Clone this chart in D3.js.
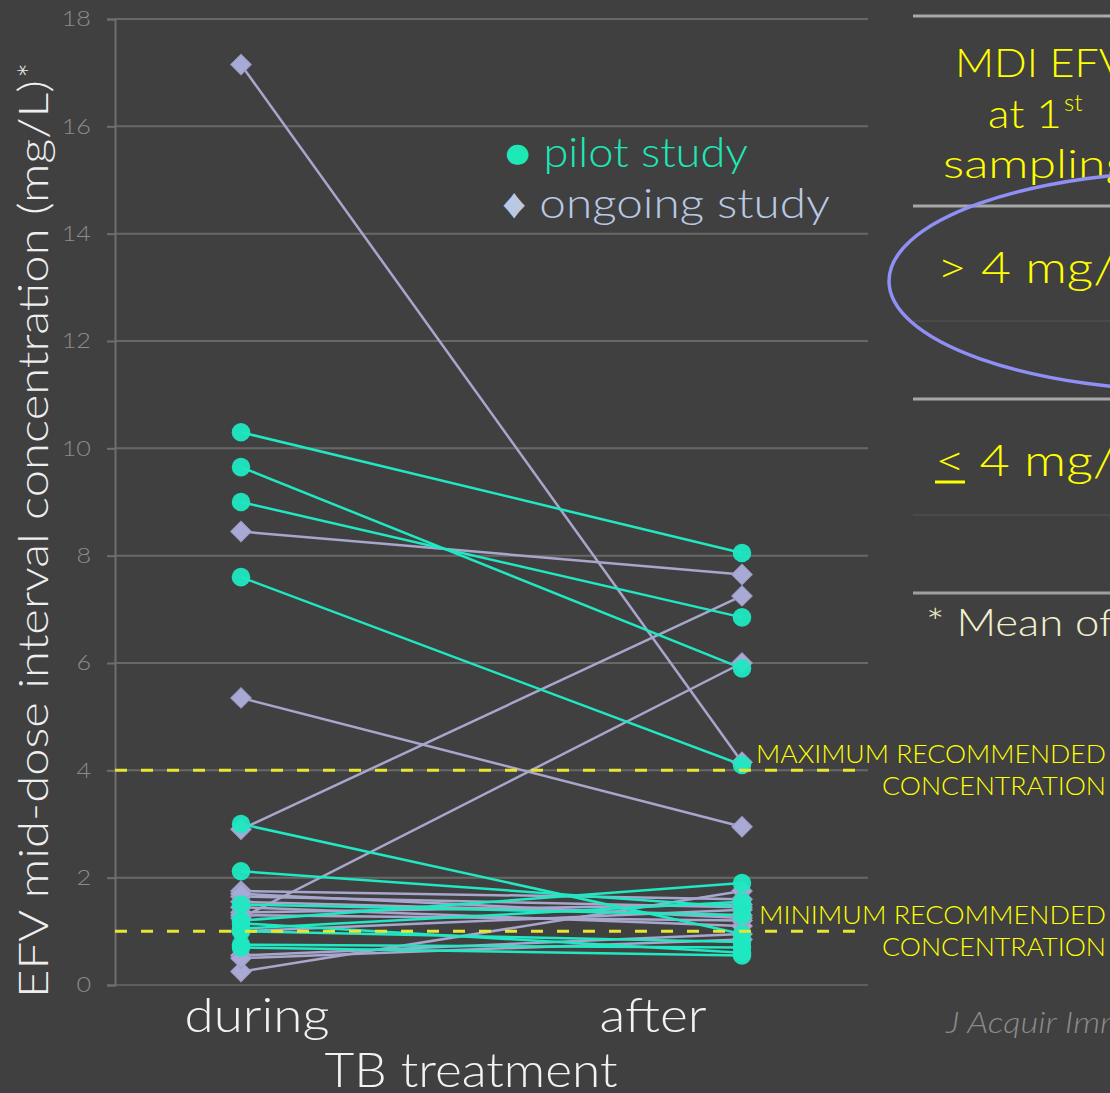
<!DOCTYPE html>
<html>
<head>
<meta charset="utf-8">
<script src="https://cdn.jsdelivr.net/npm/d3@7"></script>
<style>
  html, body { margin: 0; padding: 0; background: #404040; }
  svg { display: block; }
  text { font-family: Lato, "Noto Sans", sans-serif; }
</style>
</head>
<body>
<svg id="chart" width="1110" height="1093"></svg>
<script>
// Time points of sampling
const timepoints = ["during", "after"];

// Pilot study: paired EFV mid-dose concentrations (mg/L)
const pilotDuring = [10.3, 9.65, 9.0, 7.6, 3.0, 2.12, 1.2, 1.05, 1.0, 0.75, 0.7, 1.15, 1.5];
const pilotAfter  = [8.05, 5.9, 6.85, 4.1, 0.95, 1.45, 1.9, 1.55, 0.8, 0.7, 0.55, 0.6, 1.3];

// Ongoing study: paired EFV mid-dose concentrations (mg/L)
const ongoingDuring = [17.15, 8.45, 5.35, 2.9, 1.25, 0.25, 1.75, 1.65, 1.55, 1.45, 1.35, 1.3, 0.55, 1.0, 1.7, 0.5];
const ongoingAfter  = [4.15, 7.65, 2.95, 7.25, 6.0, 1.75, 1.6, 1.45, 1.3, 1.1, 1.5, 1.2, 0.95, 1.4, 1.25, 0.85];

// Axis ticks and recommended concentration limits
const yTicks = [0, 2, 4, 6, 8, 10, 12, 14, 16, 18];
const maxRecommended = 4;
const minRecommended = 1;

const svg = d3.select("#chart");

// Stretch a text run horizontally to a given width (or by a factor of its natural width)
function fitWidth(sel, width) {
  sel.attr("textLength", width).attr("lengthAdjust", "spacingAndGlyphs");
  return sel;
}
function widen(sel, factor) {
  sel.each(function () {
    const len = this.getComputedTextLength();
    d3.select(this).attr("textLength", len * factor).attr("lengthAdjust", "spacingAndGlyphs");
  });
  return sel;
}

const y = d3.scaleLinear().domain([0, 18]).range([985, 19]);
const x = d3.scalePoint().domain(timepoints).range([241, 742]);
const xLabel = d3.scalePoint().domain(timepoints).range([257, 653]);

const plotLeft = 115, plotRight = 868;

// Horizontal grid
svg.append("g")
  .selectAll("line")
  .data(yTicks)
  .join("line")
  .attr("x1", plotLeft).attr("x2", plotRight)
  .attr("y1", d => y(d)).attr("y2", d => y(d))
  .attr("stroke", d => d === 0 ? "#5e5e5e" : "#686868")
  .attr("stroke-width", 2);

// Y axis
const yAxis = d3.axisLeft(y).tickValues(yTicks).tickSize(8).tickPadding(16);
const gy = svg.append("g").attr("transform", `translate(${plotLeft},0)`).call(yAxis);
gy.select(".domain").attr("stroke", "#6e6e6e").attr("stroke-width", 2);
gy.selectAll(".tick line").attr("stroke", "#6e6e6e").attr("stroke-width", 2);
gy.selectAll(".tick text")
  .attr("fill", "#8c8c8c")
  .style("font-size", "21px")
  .style("font-family", "Lato, sans-serif")
  .style("font-weight", 300);
widen(gy.selectAll(".tick text"), 1.2);

// Y axis title
const yTitle = svg.append("text")
  .attr("transform", "translate(48,998) rotate(-90)")
  .attr("fill", "#eeeeee")
  .style("font-size", "41px")
  .style("font-weight", 300);
fitWidth(yTitle.append("tspan").text("EFV  mid-dose  interval  concentration  (mg/L)"), 918);
yTitle.append("tspan").attr("dx", 2).attr("dy", -4).style("font-size", "36px").text("*");

// Paired series
const pilot = pilotDuring.map((v, i) => [v, pilotAfter[i]]);
const ongoing = ongoingDuring.map((v, i) => [v, ongoingAfter[i]]);

const cyan = "#1fe8c2";
const lavender = "#a9a9d6";

const lineGen = d3.line()
  .x((d, i) => x(timepoints[i]))
  .y(d => y(d));

svg.append("g").selectAll("path")
  .data(ongoing)
  .join("path")
  .attr("d", lineGen)
  .attr("fill", "none")
  .attr("stroke", "#a8a6cc")
  .attr("stroke-width", 2.5);

svg.append("g").selectAll("path")
  .data(pilot)
  .join("path")
  .attr("d", lineGen)
  .attr("fill", "none")
  .attr("stroke", cyan)
  .attr("stroke-width", 2.5);

// Markers
const diamond = d3.symbol().type(d3.symbolSquare).size(210);
const circle = d3.symbol().type(d3.symbolCircle).size(270);

const ongoingPts = ongoing.flatMap(p => p.map((v, i) => ({ t: timepoints[i], v })));
const pilotPts = pilot.flatMap(p => p.map((v, i) => ({ t: timepoints[i], v })));

svg.append("g").selectAll("path")
  .data(ongoingPts)
  .join("path")
  .attr("d", diamond)
  .attr("transform", d => `translate(${x(d.t)},${y(d.v)}) rotate(45)`)
  .attr("fill", lavender)
  .attr("stroke", "#9c9cc4")
  .attr("stroke-width", 1);

svg.append("g").selectAll("path")
  .data(pilotPts)
  .join("path")
  .attr("d", circle)
  .attr("transform", d => `translate(${x(d.t)},${y(d.v)})`)
  .attr("fill", cyan)
  .attr("fill-opacity", 0.95);

// Recommended concentration limits
svg.append("g").selectAll("line")
  .data([maxRecommended, minRecommended])
  .join("line")
  .attr("x1", plotLeft).attr("x2", 860)
  .attr("y1", d => y(d)).attr("y2", d => y(d))
  .attr("stroke", "#e6e632")
  .attr("stroke-width", 3)
  .attr("stroke-dasharray", "12,14");

const limitLabels = [
  { v: maxRecommended, lines: [["MAXIMUM RECOMMENDED", 350], ["CONCENTRATION", 224]] },
  { v: minRecommended, lines: [["MINIMUM  RECOMMENDED", 347], ["CONCENTRATION", 224]] }
];
limitLabels.forEach(l => {
  l.lines.forEach(([s, w], i) => {
    const t = svg.append("text")
      .attr("text-anchor", "end")
      .attr("fill", "#ffff00")
      .style("font-size", "25px")
      .style("font-weight", 300)
      .attr("x", 1106)
      .attr("y", y(l.v) - 7 + i * 32)
      .text(s);
    fitWidth(t, w);
  });
});

// X labels
const xl = svg.append("g").selectAll("text")
  .data(timepoints)
  .join("text")
  .attr("x", d => xLabel(d))
  .attr("y", 1032)
  .attr("text-anchor", "middle")
  .attr("fill", "#f2f2f2")
  .style("font-size", "47px")
  .style("font-weight", 300)
  .text(d => d);
xl.each(function (d) { fitWidth(d3.select(this), d === "during" ? 145 : 107); });

fitWidth(svg.append("text")
  .attr("x", 471).attr("y", 1087)
  .attr("text-anchor", "middle")
  .attr("fill", "#f2f2f2")
  .style("font-size", "47px")
  .style("font-weight", 300)
  .text("TB treatment"), 293);

// Legend
fitWidth(svg.append("text")
  .attr("x", 504).attr("y", 167)
  .attr("fill", "#1de9b6")
  .style("font-size", "42px")
  .style("font-weight", 300)
  .text("● pilot study"), 244);
fitWidth(svg.append("text")
  .attr("x", 502).attr("y", 218)
  .attr("fill", "#b9c9e4")
  .style("font-size", "42px")
  .style("font-weight", 300)
  .text("♦ ongoing study"), 328);

// Summary table on the right
const tableRules = [
  { y: 16, c: "#a8a8a8", w: 3 },
  { y: 206, c: "#a8a8a8", w: 3 },
  { y: 321, c: "#4e4e4e", w: 1.5 },
  { y: 399, c: "#a8a8a8", w: 3 },
  { y: 515, c: "#4e4e4e", w: 1.5 },
  { y: 593, c: "#a0a0a0", w: 3 }
];
svg.append("g").selectAll("line")
  .data(tableRules)
  .join("line")
  .attr("x1", 913).attr("x2", 1110)
  .attr("y1", d => d.y).attr("y2", d => d.y)
  .attr("stroke", d => d.c)
  .attr("stroke-width", d => d.w);

fitWidth(svg.append("text")
  .attr("fill", "#ffff00")
  .attr("x", 955).attr("y", 77)
  .style("font-size", "40px")
  .style("font-weight", 300)
  .text("MDI EFV"), 172);
const l2 = svg.append("text")
  .attr("fill", "#ffff00")
  .attr("x", 988).attr("y", 128)
  .style("font-size", "40px")
  .style("font-weight", 300);
fitWidth(l2.append("tspan").text("at 1"), 74);
l2.append("tspan").attr("dx", 2).attr("dy", -17).style("font-size", "24px").text("st");
fitWidth(svg.append("text")
  .attr("fill", "#ffff00")
  .attr("x", 943).attr("y", 178)
  .style("font-size", "40px")
  .style("font-weight", 300)
  .text("sampling"), 188);

fitWidth(svg.append("text")
  .attr("fill", "#ffff00")
  .attr("x", 937).attr("y", 283)
  .style("font-size", "44px")
  .style("font-weight", 300)
  .text("> 4 mg/L"), 205);
fitWidth(svg.append("text")
  .attr("fill", "#ffff00")
  .attr("x", 935).attr("y", 476)
  .style("font-size", "44px")
  .style("font-weight", 300)
  .text("< 4 mg/L"), 207);
svg.append("line")
  .attr("x1", 935).attr("x2", 965)
  .attr("y1", 482).attr("y2", 482)
  .attr("stroke", "#ffff00").attr("stroke-width", 3);

widen(svg.append("text")
  .attr("fill", "#f3f0cc")
  .attr("x", 926).attr("y", 636)
  .style("font-size", "37px")
  .style("font-weight", 300)
  .text("* Mean of 2 measurements"), 1.18);

// Highlight ring around the > 4 mg/L row
svg.append("ellipse")
  .attr("cx", 1200).attr("cy", 281)
  .attr("rx", 311).attr("ry", 110)
  .attr("fill", "none")
  .attr("stroke", "#8f8ff5")
  .attr("stroke-width", 3.5);

// Citation
widen(svg.append("text")
  .attr("fill", "#8a8a8a")
  .attr("x", 946).attr("y", 1033)
  .style("font-size", "30px")
  .style("font-style", "italic")
  .style("font-weight", 300)
  .text("J Acquir Immune Defic Syndr"), 1.15);
</script>
</body>
</html>
